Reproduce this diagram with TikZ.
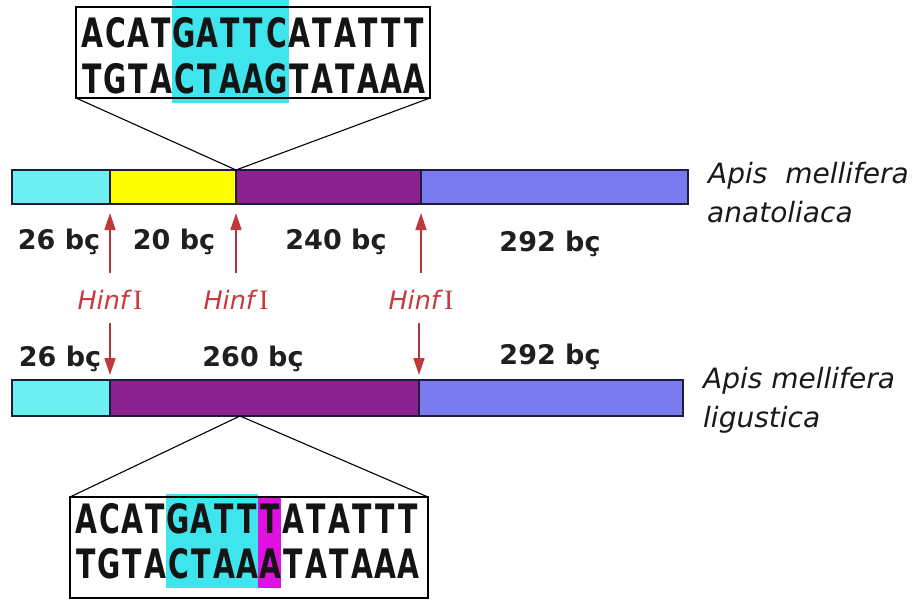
\documentclass[tikz,border=0pt]{standalone}
\usepackage{fontspec}
\setmainfont{DejaVu Sans}
\newfontfamily\seqfont[FakeStretch=0.70]{DejaVu Sans Bold}
\newfontfamily\romfont{Liberation Serif}
\usetikzlibrary{arrows.meta}

\definecolor{segcyan}{HTML}{6CEFF0}
\definecolor{segyellow}{HTML}{FFFF00}
\definecolor{segpurple}{HTML}{8C2290}
\definecolor{segblue}{HTML}{7B7BF0}
\definecolor{hlcyan}{HTML}{3EE5EC}
\definecolor{hlmagenta}{HTML}{E010E0}
\definecolor{cutred}{HTML}{A8383C}
\definecolor{tipred}{HTML}{C0383A}
\definecolor{enzred}{HTML}{C83A3E}
\definecolor{barline}{HTML}{1E1E3C}

\tikzset{
  seg/.style={draw=barline, line width=1.3pt, rectangle, inner sep=0pt, outer sep=0pt, anchor=north west},
  seqbox/.style={draw=black, line width=1.4pt, rectangle, inner sep=0pt, outer sep=0pt},
  seqchar/.style={font=\seqfont\fontsize{40.5}{41}\selectfont, anchor=base, inner sep=0pt, text=black!92},
  bplabel/.style={font=\bfseries\fontsize{27}{27}\selectfont, anchor=base, inner sep=0pt, text=black!88},
  species/.style={font=\itshape\fontsize{28}{30}\selectfont, anchor=base west, inner sep=0pt, text=black!90},
  enzyme/.style={font=\fontsize{25.5}{25.5}\selectfont, anchor=base, inner sep=0pt, text=enzred},
  cutarrow/.style={draw=cutred, line width=1.5pt, -{Triangle[length=17pt,width=11pt,color=tipred]}},
  zoomline/.style={draw=black, line width=1.1pt},
}

\begin{document}
\begin{tikzpicture}[x=1pt,y=-1pt]
\fill[white] (0,0) rectangle (915,608);
\useasboundingbox (0,0) rectangle (915,608);

% ---- upper fragment map (A. m. anatoliaca)
\node[seg, fill=segcyan,   minimum width=98pt,  minimum height=34pt] (u1) at (12,170) {};
\node[seg, fill=segyellow, minimum width=126pt, minimum height=34pt] (u2) at (110,170) {};
\node[seg, fill=segpurple, minimum width=185pt, minimum height=34pt] (u3) at (236,170) {};
\node[seg, fill=segblue,   minimum width=267pt, minimum height=34pt] (u4) at (421,170) {};

% ---- lower fragment map (A. m. ligustica)
\node[seg, fill=segcyan,   minimum width=98pt,  minimum height=36pt] (l1) at (12,380) {};
\node[seg, fill=segpurple, minimum width=309pt, minimum height=36pt] (l2) at (110,380) {};
\node[seg, fill=segblue,   minimum width=264pt, minimum height=36pt] (l3) at (419,380) {};

% ---- upper sequence window
\fill[hlcyan] (172,0) rectangle (289,103);
\node[seqbox, minimum width=354pt, minimum height=91pt, anchor=north west] (topbox) at (76,7) {};
\foreach \c [count=\i from 0] in {A,C,A,T,G,A,T,T,C,A,T,A,T,T,T}
  \node[seqchar] (ta\i) at (81+23*\i+11.5,47) {\c};
\foreach \c [count=\i from 0] in {T,G,T,A,C,T,A,A,G,T,A,T,A,A,A}
  \node[seqchar] (tb\i) at (81+23*\i+11.5,93) {\c};
\coordinate (topapex) at (236,170);
\draw[zoomline] (topbox.south west) -- (topapex) -- (topbox.south east);

% ---- lower sequence window
\fill[hlcyan] (166,494) rectangle (258,588);
\fill[hlmagenta] (258,497) rectangle (281,588);
\node[seqbox, minimum width=358pt, minimum height=101pt, anchor=north west] (botbox) at (70,497) {};
\foreach \c [count=\i from 0] in {A,C,A,T,G,A,T,T,T,A,T,A,T,T,T}
  \node[seqchar] (ba\i) at (75+23*\i+11.5,533) {\c};
\foreach \c [count=\i from 0] in {T,G,T,A,C,T,A,A,A,T,A,T,A,A,A}
  \node[seqchar] (bb\i) at (75+23*\i+11.5,578) {\c};
\coordinate (botapex) at (240,416);
\draw[zoomline] (botbox.north west) -- (botapex) -- (botbox.north east);

% ---- HinfI cut sites
\foreach \x/\n in {110/1,236/2,421/3} {
  \coordinate (up\n) at (\x,273);
  \coordinate (uptip\n) at (\x,213);
  \node[enzyme] (enz\n) at (\x,309) {\itshape Hinf\,{\romfont\upshape\fontsize{28}{28}\selectfont I}};
}
\coordinate (dn1) at (110,323); \coordinate (dntip1) at (110,375);
\coordinate (dn3) at (419,323); \coordinate (dntip3) at (419,375);
\foreach \n in {1,2,3} \draw[cutarrow] (up\n) -- (uptip\n);
\foreach \n in {1,3} \draw[cutarrow] (dn\n) -- (dntip\n);

% ---- fragment sizes
\node[bplabel] (s1) at (59,249) {26 bç};
\node[bplabel] (s2) at (174,249) {20 bç};
\node[bplabel] (s3) at (336,249) {240 bç};
\node[bplabel] (s4) at (550,251) {292 bç};
\node[bplabel] (s5) at (60,366) {26 bç};
\node[bplabel] (s6) at (253,366) {260 bç};
\node[bplabel] (s7) at (550,364) {292 bç};

% ---- species names
\node[species] (sp1) at (708,183) {Apis\ \ mellifera};
\node[species] (sp2) at (707,222) {anatoliaca};
\node[species] (sp3) at (703,388) {Apis mellifera};
\node[species] (sp4) at (703,427) {ligustica};
\end{tikzpicture}
\end{document}
